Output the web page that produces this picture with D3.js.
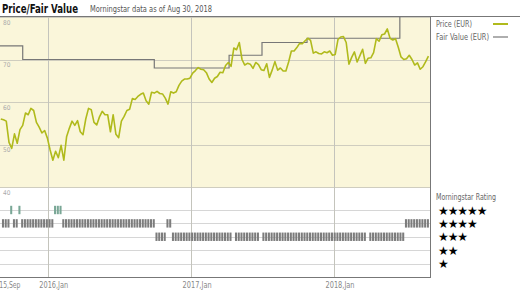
<!DOCTYPE html>
<html>
<head>
<meta charset="utf-8">
<script src="https://cdn.jsdelivr.net/npm/d3@7"></script>
<style>
  body { margin: 0; background: #fff; }
  svg { display: block; font-family: "Liberation Sans Narrow", "DejaVu Sans Condensed", sans-serif; }
</style>
</head>
<body>
<svg id="chart" width="520" height="295"></svg>
<script>
// weekly closing prices (EUR), first week ending 2015-09-03
const priceStart = "2015-09-03";
const priceValues = [
  56.0, 55.8, 55.5, 50.5, 49.1, 52.5, 50.3, 53.5, 54.5, 57.4,
  57.0, 58.5, 58.0, 55.2, 54.1, 52.7, 53.3, 51.5, 48.7, 46.3,
  48.4, 46.9, 49.8, 46.3, 51.8, 53.8, 55.5, 54.5, 55.6, 53.0,
  52.3, 56.0, 58.5, 58.2, 55.2, 54.6, 56.5, 57.8, 57.0, 57.0,
  53.0, 57.0, 52.4, 51.6, 55.5, 56.6, 58.0, 58.3, 60.8, 60.6,
  61.3, 61.8, 62.1, 60.3, 59.5, 62.3, 62.1, 62.5, 62.0, 61.9,
  60.9, 59.5, 62.4, 62.1, 62.4, 63.9, 64.9, 65.4, 65.4, 65.6,
  66.8, 67.4, 68.1, 67.7, 67.6, 66.9, 65.4, 64.6, 65.6, 66.0,
  67.0, 66.9, 68.6, 69.3, 68.4, 72.7, 72.3, 74.0, 70.0, 68.7,
  69.1, 68.9, 67.9, 69.3, 68.8, 67.6, 67.4, 69.0, 65.8, 67.5,
  69.5, 67.5, 68.0, 67.3, 67.3, 69.4, 72.0, 72.0, 72.8, 73.8,
  73.7, 74.4, 75.0, 74.5, 71.5, 71.8, 71.4, 71.3, 71.8, 71.6,
  72.0, 71.0, 71.2, 74.7, 75.3, 75.4, 74.0, 68.9, 70.5, 71.8,
  69.4, 70.9, 72.4, 69.1, 70.3, 70.4, 71.6, 74.9, 74.3, 75.8,
  76.0, 77.2, 75.0, 74.6, 74.9, 72.9, 70.6, 70.0, 70.2, 71.0,
  70.0, 68.7, 69.2, 67.7, 68.3, 69.5, 70.8
];

// fair value changes
const fairDates = ["2015-09-01", "2015-10-29", "2016-09-29", "2017-04-08", "2017-07-01", "2017-10-24", "2018-06-18", "2018-08-30"];
const fairValues = [73.2, 70.0, 68.0, 71.0, 74.0, 75.0, 85.0, 85.0];

// star rating periods
const ratingStarts = ["2015-09-01", "2015-09-25", "2015-10-04", "2015-10-14", "2015-10-21", "2016-01-11", "2016-02-03", "2016-02-08", "2016-02-12", "2016-09-30", "2016-10-28", "2016-11-10", "2017-04-17", "2017-06-28", "2017-12-30", "2018-03-28", "2018-06-29"];
const ratingEnds   = ["2015-09-25", "2015-10-04", "2015-10-14", "2015-10-21", "2016-01-11", "2016-02-03", "2016-02-08", "2016-02-12", "2016-09-30", "2016-10-28", "2016-11-10", "2017-04-12", "2017-06-23", "2017-12-25", "2018-03-23", "2018-06-29", "2018-08-31"];
const ratingStars  = [4, 5, 4, 5, 4, 5, 4, 5, 4, 3, 4, 3, 3, 3, 3, 3, 4];

const xTicks = ["2015-09-01", "2016-01-01", "2017-01-01", "2018-01-01"];
const xTickLabels = ["2015,Sep", "2016,Jan", "2017,Jan", "2018,Jan"];
const yTicks = [80, 70, 60, 50, 40];
const starRows = [5, 4, 3, 2, 1];

const parse = d3.timeParse("%Y-%m-%d");
const svg = d3.select("#chart");

// panel edges
const pL = 0, pR = 430, pTop = 17, pMid = 187, pBot = 277;

const x = d3.scaleTime()
  .domain([parse("2015-09-01"), parse("2018-09-03")])
  .range([pL, pR]);
const y = d3.scaleLinear().domain([40, 80]).range([pMid, pTop]);
const yStar = d3.scaleLinear().domain([1, 5]).range([263.5, 210]);

const t0 = parse(priceStart);
const prices = priceValues.map((v, i) => ({ date: d3.timeDay.offset(t0, i * 7), value: v }));
const fair = fairDates.map((d, i) => ({ date: parse(d), value: fairValues[i] }));

// price panel background
svg.append("rect")
  .attr("x", pL).attr("y", pTop)
  .attr("width", pR - pL).attr("height", pMid - pTop)
  .attr("fill", "#faf6da");

svg.append("clipPath").attr("id", "clip")
  .append("rect").attr("x", pL).attr("y", pTop).attr("width", pR - pL).attr("height", pMid - pTop);

// horizontal grid (price)
svg.append("g").selectAll("line")
  .data(yTicks)
  .join("line")
  .attr("x1", pL).attr("x2", pR)
  .attr("y1", d => Math.round(y(d)) + 0.5).attr("y2", d => Math.round(y(d)) + 0.5)
  .attr("stroke", "#cfcdbf").attr("stroke-width", 1);

// rating grid
svg.append("g").selectAll("line")
  .data(starRows)
  .join("line")
  .attr("x1", pL).attr("x2", pR)
  .attr("y1", d => Math.round(yStar(d)) + 0.5).attr("y2", d => Math.round(yStar(d)) + 0.5)
  .attr("stroke", "#d6d6d6").attr("stroke-width", 1);

// vertical grid
svg.append("g").selectAll("line")
  .data(xTicks.slice(1))
  .join("line")
  .attr("x1", d => Math.round(x(parse(d))) + 0.5).attr("x2", d => Math.round(x(parse(d))) + 0.5)
  .attr("y1", pTop).attr("y2", pBot)
  .attr("stroke", "#c4c4bc").attr("stroke-width", 1);

// y labels
svg.append("g").selectAll("text")
  .data(yTicks)
  .join("text")
  .attr("x", 3).attr("y", d => y(d) + 7.5)
  .attr("font-size", 6.5).attr("fill", "#aaa")
  .text(d => d);

// x labels
svg.append("g").selectAll("text")
  .data(xTicks)
  .join("text")
  .attr("x", d => x(parse(d)) + 6).attr("y", 288)
  .attr("text-anchor", "middle")
  .attr("font-size", 8).attr("fill", "#888")
  .attr("textLength", 29).attr("lengthAdjust", "spacingAndGlyphs")
  .text((d, i) => xTickLabels[i]);

// fair value step line
svg.append("path")
  .datum(fair)
  .attr("clip-path", "url(#clip)")
  .attr("fill", "none")
  .attr("stroke", "#777")
  .attr("stroke-width", 1.2)
  .attr("d", d3.line().curve(d3.curveStepAfter).x(d => x(d.date)).y(d => y(d.value)));

// price line
svg.append("path")
  .datum(prices)
  .attr("clip-path", "url(#clip)")
  .attr("fill", "none")
  .attr("stroke", "#b0ba1c")
  .attr("stroke-width", 1.6)
  .attr("stroke-linejoin", "round")
  .attr("d", d3.line().x(d => x(d.date)).y(d => y(d.value)));

// rating bars, one block per week
const weeks = [];
ratingStarts.forEach((s, i) => {
  d3.timeWeek.range(parse(s), parse(ratingEnds[i])).forEach(w => {
    weeks.push({ date: w, stars: ratingStars[i] });
  });
});
const wk = x(d3.timeDay.offset(x.domain()[0], 7)) - x(x.domain()[0]);
svg.append("g").selectAll("rect")
  .data(weeks)
  .join("rect")
  .attr("x", d => x(d.date))
  .attr("y", d => yStar(d.stars) - 4.2)
  .attr("width", wk - 0.7)
  .attr("height", 8.4)
  .attr("fill", d => d.stars == 5 ? "#79a796" : "#7c7c7c");

// borders
svg.append("line").attr("x1", 0).attr("x2", 520).attr("y1", pTop - 0.5).attr("y2", pTop - 0.5)
  .attr("stroke", "#777").attr("stroke-width", 1);
svg.append("line").attr("x1", pR + 0.5).attr("x2", pR + 0.5).attr("y1", pTop).attr("y2", pBot)
  .attr("stroke", "#777").attr("stroke-width", 1);
svg.append("line").attr("x1", pL).attr("x2", pR + 1).attr("y1", pBot + 0.5).attr("y2", pBot + 0.5)
  .attr("stroke", "#777").attr("stroke-width", 1);

// title
svg.append("text").attr("x", 2).attr("y", 13)
  .attr("font-size", 12.5).attr("font-weight", "bold").attr("fill", "#111")
  .attr("textLength", 76).attr("lengthAdjust", "spacingAndGlyphs")
  .text("Price/Fair Value");
svg.append("text").attr("x", 90).attr("y", 12)
  .attr("font-size", 8.5).attr("fill", "#555")
  .attr("textLength", 122).attr("lengthAdjust", "spacingAndGlyphs")
  .text("Morningstar data as of Aug 30, 2018");

// legend
const legend = [
  { label: "Price (EUR)", color: "#b0ba1c", w: 2, len: 36 },
  { label: "Fair Value (EUR)", color: "#777", w: 1.2, len: 53 }
];
const lg = svg.append("g").selectAll("g").data(legend).join("g")
  .attr("transform", (d, i) => "translate(436," + (24 + i * 13) + ")");
lg.append("text").attr("y", 3).attr("font-size", 8.5).attr("fill", "#666")
  .attr("textLength", d => d.len).attr("lengthAdjust", "spacingAndGlyphs")
  .text(d => d.label);
lg.append("line").attr("x1", 57).attr("x2", 72).attr("y1", 0).attr("y2", 0)
  .attr("stroke", d => d.color).attr("stroke-width", d => d.w);

svg.append("text").attr("x", 436).attr("y", 200)
  .attr("font-size", 8.5).attr("fill", "#666")
  .attr("textLength", 60).attr("lengthAdjust", "spacingAndGlyphs")
  .text("Morningstar Rating");
svg.append("g").selectAll("text")
  .data(starRows)
  .join("text")
  .attr("x", 438).attr("y", d => yStar(d) + 4.5)
  .attr("font-family", "DejaVu Sans")
  .attr("font-size", 12).attr("fill", "#000")
  .attr("letter-spacing", -1.1)
  .text(d => "★".repeat(d));
</script>
</body>
</html>
